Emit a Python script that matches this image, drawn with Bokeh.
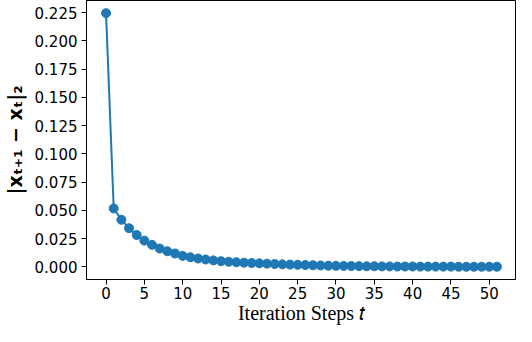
from bokeh.plotting import figure
from bokeh.models import FixedTicker, NumeralTickFormatter, Range1d
from bokeh.embed import file_html
from bokeh.resources import INLINE

steps = list(range(52))
diff_norm = [0.2245, 0.0517, 0.0417, 0.0342, 0.0282, 0.0232, 0.0195, 0.0162,
             0.0138, 0.0118, 0.0097, 0.0085, 0.0074, 0.0065, 0.0057, 0.0050,
             0.0045, 0.0041, 0.0037, 0.0034, 0.0031, 0.0028, 0.0025, 0.0022,
             0.0020, 0.0018, 0.0016, 0.0014, 0.0012, 0.0010, 0.0009, 0.0008,
             0.0007, 0.0006, 0.0005, 0.0005, 0.0004, 0.0004, 0.0003, 0.0003,
             0.0003, 0.0002, 0.0002, 0.0002, 0.0002, 0.0002, 0.0001, 0.0001,
             0.0001, 0.0001, 0.0001, 0.0001]
x_ticks = [0, 5, 10, 15, 20, 25, 30, 35, 40, 45, 50]
y_ticks = [0.0, 0.025, 0.05, 0.075, 0.1, 0.125, 0.15, 0.175, 0.2, 0.225]
x_label = "Iteration Steps \U0001D461"
y_label = "|x\u209c\u208a\u2081 \u2212 x\u209c|\u2082"

color = "#1f77b4"

p = figure(width=516, height=326, output_backend="svg", toolbar_location=None,
           x_range=Range1d(-2.55, 53.55), y_range=Range1d(-0.0112, 0.2357),
           min_border_left=78, min_border_right=0, min_border_top=0,
           min_border_bottom=40)

p.line(steps, diff_norm, line_color=color, line_width=2)
p.scatter(steps, diff_norm, size=9, fill_color=color, line_color=color)

p.grid.visible = False
p.outline_line_color = "black"
p.outline_line_width = 1
p.outline_line_alpha = 1

for ax in (p.xaxis[0], p.yaxis[0]):
    ax.axis_line_color = "black"
    ax.major_tick_line_color = "black"
    ax.minor_tick_line_color = None
    ax.major_tick_in = 0
    ax.major_tick_out = 5
    ax.major_label_text_font = "DejaVu Sans"
    ax.major_label_text_font_size = "15px"
    ax.major_label_text_color = "black"
    ax.major_label_standoff = 4

p.xaxis.ticker = FixedTicker(ticks=x_ticks)
p.yaxis.ticker = FixedTicker(ticks=y_ticks)
p.yaxis.formatter = NumeralTickFormatter(format="0.000")

p.xaxis.major_label_standoff = 2
p.xaxis.axis_label = x_label
p.xaxis.axis_label_text_font = "Liberation Serif"
p.xaxis.axis_label_text_font_style = "normal"
p.xaxis.axis_label_text_font_size = "20px"
p.xaxis.axis_label_text_color = "black"
p.xaxis.axis_label_standoff = 0

p.yaxis.axis_label = y_label
p.yaxis.axis_label_text_font = "DejaVu Sans"
p.yaxis.axis_label_text_font_style = "bold"
p.yaxis.axis_label_text_font_size = "19px"
p.yaxis.axis_label_text_color = "black"
p.yaxis.axis_label_standoff = 6

open("out.html", "w").write(file_html(p, INLINE))
